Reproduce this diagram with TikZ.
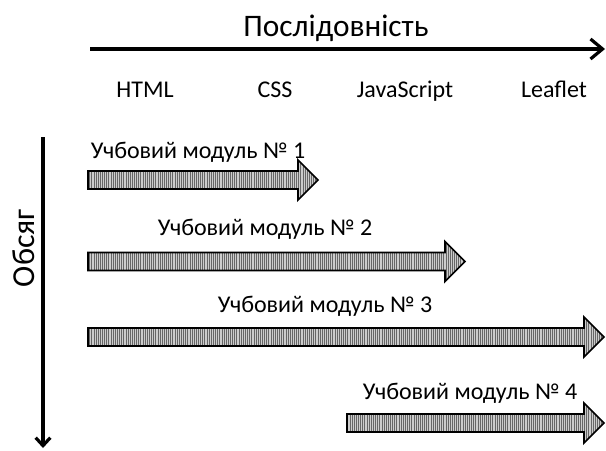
\documentclass[tikz,border=0pt]{standalone}
\usepackage{fontspec}
\setmainfont{Carlito}
\usetikzlibrary{patterns.meta, arrows.meta}
\newcommand\blockarr[3]{%
  \fill[blockfill] (#1,#3-9) -- (#2-20,#3-9) -- (#2-20,#3-20) -- (#2,#3) -- (#2-20,#3+20) -- (#2-20,#3+9) -- (#1,#3+9) -- cycle;
  \draw[blockline] (#1,#3-9) -- (#2-20,#3-9) -- (#2-20,#3-20) -- (#2,#3) -- (#2-20,#3+20) -- (#2-20,#3+9) -- (#1,#3+9) -- cycle;}
\begin{document}
\begin{tikzpicture}[x=0.75pt,y=-0.75pt,
  axis/.style={line width=2.4pt},
  htip/.style={-{Straight Barb[length=9pt,width=15pt]}},
  vtip/.style={-{Straight Barb[length=6pt,width=11pt]}},
  blockfill/.style={fill=gray!40, postaction={pattern={Lines[angle=90,distance=1.6pt,line width=0.5pt]},pattern color=black!60}},
  blockline/.style={draw=black, line width=1.3pt, line join=miter},
  lbl/.style={font=\fontsize{18}{20}\selectfont, inner sep=0pt, anchor=base},
  ttl/.style={font=\fontsize{23.5}{26}\selectfont, inner sep=0pt, anchor=base},
  vttl/.style={font=\fontsize{24}{26}\selectfont, inner sep=0pt}]
\useasboundingbox (0,0) rectangle (606,450);
% horizontal axis
\coordinate (h1) at (90,49);
\coordinate (h2) at (605,49);
\draw[axis,htip] (h1) -- (h2);
\node[ttl] (title) at (336,36) {Послідовність};
\node[lbl] (html) at (145,97) {HTML};
\node[lbl] (css) at (275,97) {CSS};
\node[lbl] (js) at (405,97) {JavaScript};
\node[lbl] (leaf) at (554,97) {Leaflet};
% vertical axis
\coordinate (v1) at (43,137);
\coordinate (v2) at (43,448);
\draw[axis,vtip] (v1) -- (v2);
\node[vttl, rotate=90] (vol) at (24,248) {Обсяг};
% modules
\blockarr{88}{318}{180}
\node[lbl] (m1) at (198,158) {Учбовий модуль № 1};
\blockarr{88}{465}{261.5}
\node[lbl] (m2) at (265,235) {Учбовий модуль № 2};
\blockarr{88}{604}{337}
\node[lbl] (m3) at (325,312) {Учбовий модуль № 3};
\blockarr{347}{604}{423}
\node[lbl] (m4) at (470,399) {Учбовий модуль № 4};
\end{tikzpicture}
\end{document}
